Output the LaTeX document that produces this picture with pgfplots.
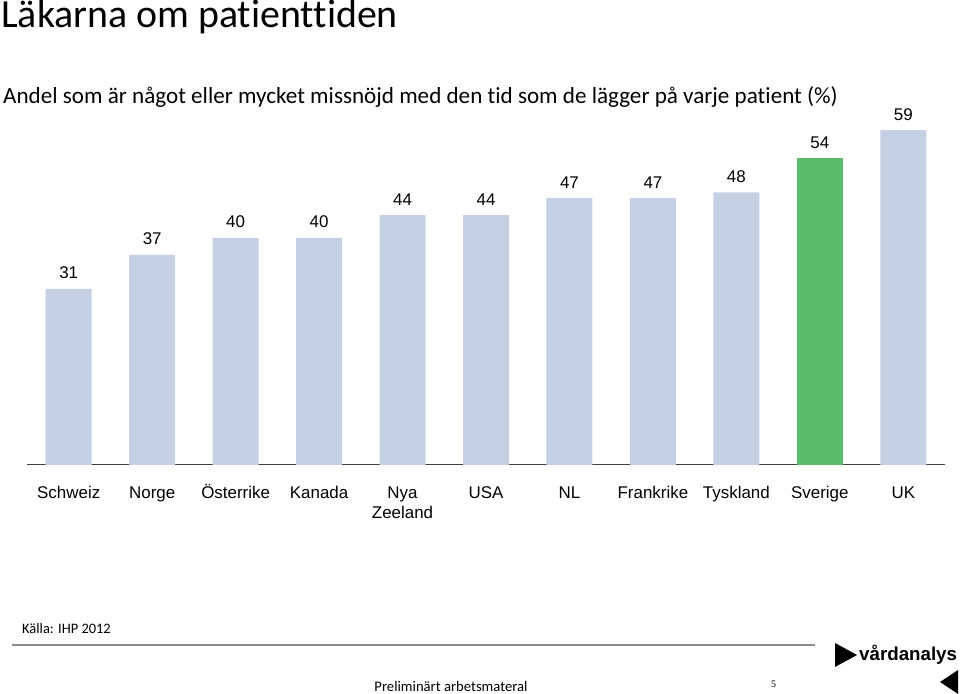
\documentclass[border=0pt]{standalone}
\usepackage{pgfplots}
\pgfplotsset{compat=1.18}
\usepackage{fontspec}
\setmainfont{Liberation Sans}
\newfontfamily\calfont[Ligatures=NoCommon]{Carlito}
\newfontfamily\serfont{Liberation Serif}
\definecolor{barblue}{HTML}{C5D0E2}
\definecolor{bargreen}{HTML}{5CBB6A}
\definecolor{axisgray}{HTML}{404040}
\begin{document}
\begin{tikzpicture}[x=1bp,y=1bp]
\path[use as bounding box] (0,0) rectangle (960,694);
\node[anchor=base west,inner sep=0pt,font=\calfont\fontsize{40}{44}\selectfont] at (1,694-28) {Läkarna om patienttiden};
\node[anchor=base west,inner sep=0pt,font=\calfont\fontsize{23.2}{26}\selectfont] at (3,694-104) {Andel som är något eller mycket missnöjd med den tid som de lägger på varje patient (\%)};
\begin{axis}[
  at={(27bp,229bp)}, anchor=south west,
  scale only axis, width=918bp, height=352bp,
  xmin=-0.5, xmax=10.5, ymin=0, ymax=62,
  axis x line=bottom, axis y line=none,
  axis line style={-,draw=axisgray,line width=1pt},
  xtick={0,...,10},
  xticklabels={\strut Schweiz,\strut Norge,\strut Österrike,\strut Kanada,\strut Nya\\Zeeland,\strut USA,\strut NL,\strut Frankrike,\strut Tyskland,\strut Sverige,\strut UK},
  major tick length=0pt,
  xticklabel style={font=\fontsize{17}{20.5}\selectfont,align=center,anchor=north,inner sep=0pt,yshift=-18.6bp},
  ybar, bar width=46bp, bar shift=0pt,
  /pgf/number format/assume math mode=true,
  nodes near coords,
  every node near coord/.append style={font=\fontsize{17}{20}\selectfont,anchor=base,inner sep=0pt,yshift=10bp,text=black},
  clip=false,
]
\addplot[fill=barblue,draw=none] coordinates {(0,31) (1,37) (2,40) (3,40) (4,44) (5,44) (6,47) (7,47) (8,48) (10,59)};
\addplot[fill=bargreen,draw=none] coordinates {(9,54)};
\end{axis}
\node[anchor=base west,inner sep=0pt,font=\calfont\fontsize{14.5}{16}\selectfont] at (22,694-634) {Källa: IHP 2012};
\draw[line width=2.2bp,draw=black!45] (12,694-645) -- (815,694-645);
\node[anchor=base,inner sep=0pt,font=\calfont\fontsize{14.7}{16}\selectfont] at (451,694-692) {Preliminärt arbetsmateral};
\node[anchor=base west,inner sep=0pt,font=\serfont\fontsize{10}{12}\selectfont] at (771,694-688) {5};
\fill[black] (835,694-643) -- (857,694-655) -- (835,694-667) -- cycle;
\node[anchor=base west,inner sep=0pt,font=\bfseries\fontsize{18.8}{20}\selectfont] at (859,694-661) {vårdanalys};
\fill[black] (958,694-670) -- (940,694-682) -- (958,694-694) -- cycle;
\end{tikzpicture}
\end{document}
